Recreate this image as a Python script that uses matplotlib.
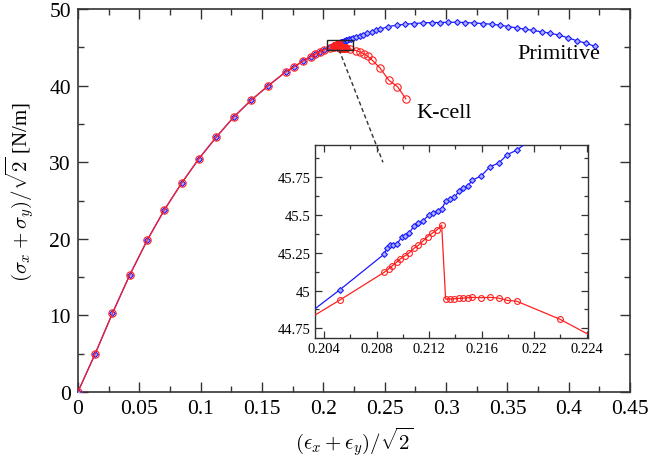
import matplotlib
matplotlib.use("Agg")
import matplotlib.pyplot as plt
from matplotlib.lines import Line2D
from matplotlib.patches import Rectangle

plt.rcParams['font.family'] = ['Liberation Serif', 'DejaVu Serif']
plt.rcParams['mathtext.fontset'] = 'cm'

# shared part of both curves
common_x = [0.0, 0.0141, 0.0282, 0.0423, 0.0564, 0.0705, 0.0846, 0.0987, 0.1128,
            0.1269, 0.1410, 0.1551, 0.1692, 0.1763, 0.1833, 0.1897, 0.1934, 0.1970, 0.2003]
common_y = [0.0, 5.0, 10.3, 15.3, 19.8, 23.8, 27.3, 30.5, 33.3,
            35.9, 38.1, 40.0, 41.8, 42.5, 43.2, 43.8, 44.15, 44.45, 44.68]

# Primitive cell (blue diamonds) beyond the shared part
prim_x = [0.2052, 0.20855, 0.2088, 0.2090, 0.20926, 0.20957, 0.2099, 0.21015, 0.21048,
          0.21084, 0.21117, 0.21155, 0.21195, 0.21231, 0.21264, 0.21295, 0.21325, 0.21358,
          0.21391, 0.21429, 0.2146, 0.21493, 0.21526, 0.21597, 0.21663, 0.2173, 0.21795,
          0.21866, 0.2196, 0.2208, 0.2224, 0.2245, 0.2270, 0.2298, 0.2326, 0.2358, 0.2394,
          0.2428, 0.2462, 0.2530, 0.2598, 0.2666, 0.2739, 0.2810, 0.2883, 0.2951, 0.3019,
          0.3087, 0.3155, 0.3228, 0.3299, 0.3372, 0.3440, 0.3508, 0.3576, 0.3644, 0.3712,
          0.3780, 0.3848, 0.3924, 0.3997, 0.4070, 0.4141, 0.4215]
prim_y = [45.006, 45.24, 45.284, 45.30, 45.30, 45.31, 45.355, 45.364, 45.38,
          45.43, 45.445, 45.463, 45.50, 45.514, 45.53, 45.54, 45.59, 45.606,
          45.617, 45.66, 45.677, 45.69, 45.73, 45.76, 45.82, 45.845, 45.90,
          45.93, 45.99, 46.06, 46.16, 46.28, 46.40, 46.52, 46.63, 46.83, 47.04,
          47.22, 47.39, 47.74, 47.91, 48.04, 48.13, 48.21, 48.26, 48.26, 48.30,
          48.30, 48.26, 48.20, 48.13, 48.04, 47.91, 47.74, 47.56, 47.39, 47.22,
          47.04, 46.87, 46.60, 46.25, 45.86, 45.56, 45.13]

# K-cell (red circles) beyond the shared part
kcell_x = [0.2052, 0.20855, 0.2089, 0.2092, 0.20951, 0.2098, 0.21015, 0.21048, 0.21084,
           0.21117, 0.21155, 0.21188, 0.21223, 0.21257, 0.21295, 0.21325, 0.21358, 0.2139,
           0.21427, 0.2146, 0.21493, 0.21526, 0.21597, 0.21663, 0.2173, 0.21795, 0.21866,
           0.22197, 0.2265, 0.2300, 0.2335, 0.2362, 0.2394, 0.2460, 0.2535, 0.2603, 0.2672]
kcell_y = [44.938, 45.12, 45.143, 45.165, 45.187, 45.21, 45.23, 45.25, 45.28,
           45.30, 45.33, 45.357, 45.38, 45.40, 45.434, 44.944, 44.944, 44.946,
           44.948, 44.95, 44.953, 44.955, 44.953, 44.955, 44.95, 44.935, 44.93,
           44.81, 44.60, 44.40, 44.15, 43.85, 43.40, 42.35, 40.70, 39.90, 38.30]

px = common_x + prim_x
py = common_y + prim_y
kx = common_x + kcell_x
ky = common_y + kcell_y

main_xticks = [0, 0.05, 0.1, 0.15, 0.2, 0.25, 0.3, 0.35, 0.4, 0.45]
main_xticklabels = ['0', '0.05', '0.1', '0.15', '0.2', '0.25', '0.3', '0.35', '0.4', '0.45']
main_yticks = [0, 10, 20, 30, 40, 50]
inset_xticks = [0.204, 0.208, 0.212, 0.216, 0.22, 0.224]
inset_xticklabels = ['0.204', '0.208', '0.212', '0.216', '0.22', '0.224']
inset_yticks = [44.75, 45, 45.25, 45.5, 45.75]
inset_yticklabels = ['44.75', '45', '45.25', '45.5', '45.75']

zoom_x = (0.2033, 0.2241)
zoom_y = (44.686, 45.964)

BLUE = '#1a1aff'
RED = '#ff2020'
AXC = '#333333'

fig = plt.figure(figsize=(6.49, 4.64), dpi=100)
ax = fig.add_axes([0.120, 0.153, 0.851, 0.825])

ax.plot(px, py, color=BLUE, lw=0.9, marker='D', ms=3.0, mfc='#aab0ff', mec=BLUE, mew=0.8, zorder=3)
ax.plot(kx, ky, color=RED, lw=0.9, marker='o', ms=5.3, mfc='none', mec=RED, mew=0.8, zorder=4)

ax.set_xlim(0, 0.45)
ax.set_ylim(0, 50)
ax.set_xticks(main_xticks)
ax.set_xticklabels(main_xticklabels)
ax.set_yticks(main_yticks)
ax.set_xticks([0.025 + 0.05 * i for i in range(9)], minor=True)
ax.set_yticks([5, 15, 25, 35, 45], minor=True)
ax.tick_params(which='both', direction='in', top=True, right=True, colors=AXC, labelcolor='black')
ax.tick_params(which='major', length=7, width=1, labelsize=15.5, pad=5)
ax.tick_params(which='minor', length=4, width=1)
for s in ax.spines.values():
    s.set_color(AXC)
    s.set_linewidth(1.2)

ax.set_xlabel(r'$(\epsilon_x+\epsilon_y)/\sqrt{2}$', fontsize=15, labelpad=4)
ax.set_ylabel(r'$(\sigma_x+\sigma_y)/\sqrt{2}$ [N/m]', fontsize=15)
ax.yaxis.set_label_coords(-0.076, 0.525)

ax.text(0.358, 45.4, 'Primitive', fontsize=16, ha='left', va='top')
ax.text(0.276, 37.8, 'K-cell', fontsize=16, ha='left', va='top')

ax.add_patch(Rectangle((zoom_x[0], zoom_y[0]), zoom_x[1] - zoom_x[0], zoom_y[1] - zoom_y[0],
                       fill=False, ec='#222222', lw=1.0, zorder=6))

# inset
ins = fig.add_axes([0.4854, 0.2694, 0.4206, 0.4159])
ins.plot(px, py, color=BLUE, lw=0.9, marker='D', ms=3.0, mfc='#aab0ff', mec=BLUE, mew=0.8, zorder=3)
ins.plot(kx, ky, color=RED, lw=0.9, marker='o', ms=4.2, mfc='none', mec=RED, mew=0.8, zorder=4)
ins.set_xlim(*zoom_x)
ins.set_ylim(*zoom_y)
ins.set_xticks(inset_xticks)
ins.set_xticklabels(inset_xticklabels)
ins.set_yticks(inset_yticks)
ins.set_yticklabels(inset_yticklabels)
ins.set_xticks([0.206 + 0.004 * i for i in range(5)], minor=True)
ins.set_yticks([44.875, 45.125, 45.375, 45.625, 45.875], minor=True)
ins.tick_params(which='both', direction='in', top=True, right=True, colors=AXC, labelcolor='black')
ins.tick_params(which='major', length=5, width=0.9, labelsize=10.5, pad=3)
ins.tick_params(which='minor', length=3, width=0.9)
for s in ins.spines.values():
    s.set_color(AXC)
    s.set_linewidth(1.0)

# dashed connector from zoom box to inset
fig.add_artist(Line2D([0.2128, 0.2486], [44.7, 30.0], transform=ax.transData,
                      color='#333333', lw=1.0, ls=(0, (3, 2)), zorder=10))

fig.savefig('out.png', dpi=100)
